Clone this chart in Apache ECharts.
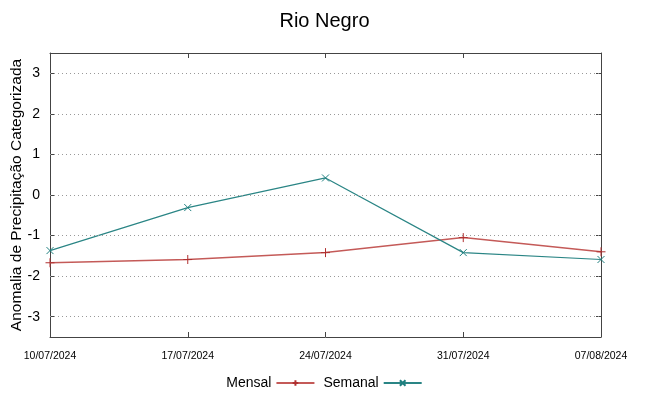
<!DOCTYPE html>
<html>
<head>
<meta charset="utf-8">
<script src="https://cdn.jsdelivr.net/npm/echarts@6/dist/echarts.min.js"></script>
<style>
html,body{margin:0;padding:0;background:#fff;}
#chart{width:649px;height:396px;}
</style>
</head>
<body>
<div id="chart"></div>
<script>
var dates = ['10/07/2024', '17/07/2024', '24/07/2024', '31/07/2024', '07/08/2024'];
var mensal = [-1.67, -1.59, -1.42, -1.05, -1.40];
var semanal = [-1.37, -0.31, 0.42, -1.42, -1.59];
var yTicks = [-3, -2, -1, 0, 1, 2, 3];

var myChart = echarts.init(document.getElementById('chart'));

var plusPath = 'path://M0,5 L10,5 M5,0 L5,10';
var crossPath = 'path://M0,0 L10,10 M0,10 L10,0';
var frame = {color: '#444', width: 1};

var option = {
    animation: false,
    title: {
        text: 'Rio Negro',
        left: 'center',
        top: 6,
        textStyle: {fontFamily: 'Liberation Sans', fontSize: 20, fontWeight: 'normal', color: '#000'}
    },
    legend: {
        bottom: 1,
        left: 'center',
        align: 'right',
        itemWidth: 38,
        itemHeight: 7,
        itemGap: 8,
        textStyle: {fontFamily: 'Liberation Sans', fontSize: 14, color: '#000'},
        data: ['Mensal', 'Semanal']
    },
    grid: {left: 50, right: 48, top: 53, bottom: 59, show: false, containLabel: false, outerBoundsMode: 'none'},
    xAxis: [{
        type: 'category',
        data: dates,
        boundaryGap: false,
        axisLine: {onZero: false, lineStyle: frame},
        axisTick: {inside: true, length: 5, lineStyle: frame},
        axisLabel: {fontFamily: 'Liberation Sans', fontSize: 10.5, color: '#000', margin: 14,
            showMinLabel: true, showMaxLabel: true, interval: 0},
        splitLine: {show: false}
    }, {
        type: 'category',
        data: dates,
        position: 'top',
        boundaryGap: false,
        axisLine: {onZero: false, lineStyle: frame},
        axisTick: {inside: true, length: 5, lineStyle: frame},
        axisLabel: {show: false},
        splitLine: {show: false}
    }],
    yAxis: [{
        type: 'value',
        min: -3.5,
        max: 3.5,
        name: 'Anomalia de Precipitação Categorizada',
        nameLocation: 'middle',
        nameGap: 25,
        nameMoveOverlap: false,
        nameTextStyle: {fontFamily: 'Liberation Sans', fontSize: 15.5, color: '#000'},
        axisLine: {show: true, onZero: false, lineStyle: frame},
        axisTick: {show: true, inside: true, length: 5, lineStyle: frame, customValues: yTicks},
        axisLabel: {fontFamily: 'Liberation Sans', fontSize: 14, color: '#000', margin: 10, customValues: yTicks},
        splitLine: {show: false}
    }, {
        type: 'value',
        min: -3.5,
        max: 3.5,
        position: 'right',
        axisLine: {show: true, onZero: false, lineStyle: frame},
        axisTick: {show: true, inside: true, length: 5, lineStyle: frame, customValues: yTicks},
        axisLabel: {show: false, customValues: yTicks},
        splitLine: {show: false}
    }],
    series: [{
        name: 'Mensal',
        type: 'line',
        data: mensal,
        symbol: plusPath,
        symbolSize: 9,
        showAllSymbol: true,
        lineStyle: {color: '#c45a58', width: 1.5},
        itemStyle: {color: '#c45a58', borderColor: '#b03030', borderWidth: 1},
        markLine: {
            silent: true,
            symbol: 'none',
            label: {show: false},
            lineStyle: {color: '#999', type: [1, 3], width: 1},
            data: yTicks.map(function (v) { return {yAxis: v}; })
        },
        z: 3
    }, {
        name: 'Semanal',
        type: 'line',
        data: semanal,
        symbol: crossPath,
        symbolSize: 7,
        showAllSymbol: true,
        lineStyle: {color: '#2a8585', width: 1.2},
        itemStyle: {color: '#2a8585', borderColor: '#1f7f7f', borderWidth: 1},
        z: 4
    }]
};

myChart.setOption(option);
</script>
</body>
</html>
